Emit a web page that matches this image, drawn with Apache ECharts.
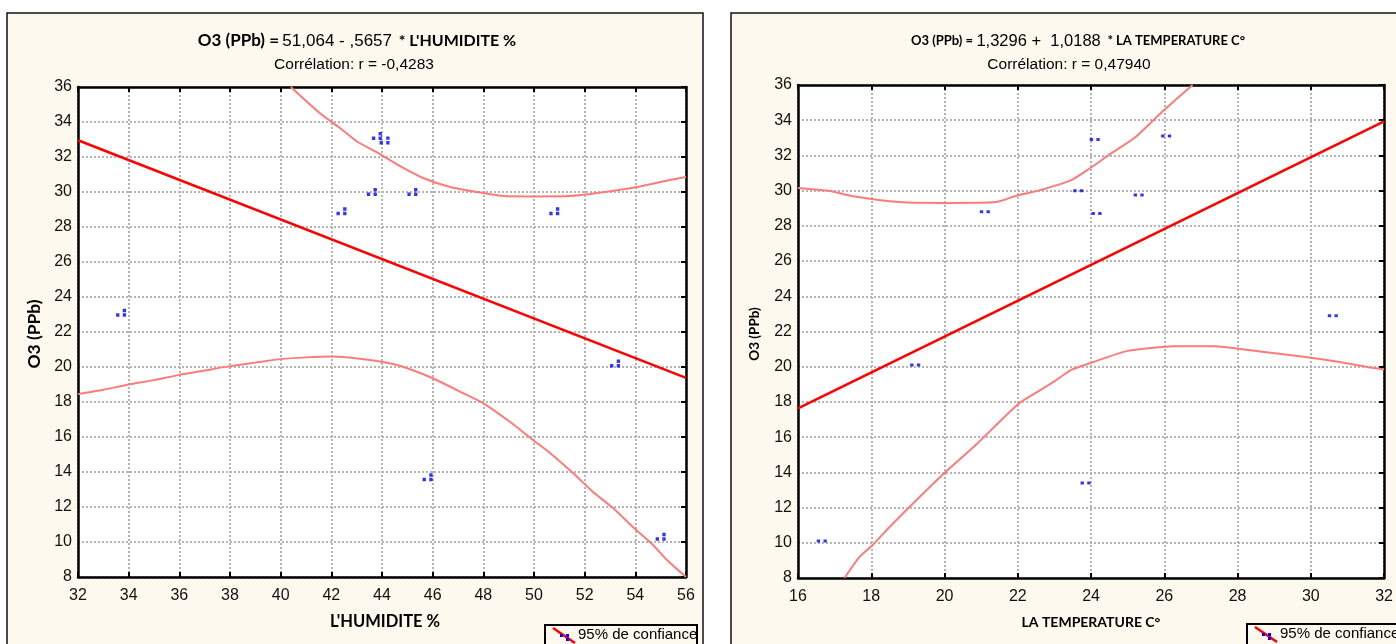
<!DOCTYPE html>
<html><head><meta charset="utf-8">
<script src="https://cdn.jsdelivr.net/npm/echarts@6/dist/echarts.min.js"></script>
<style>html,body{margin:0;padding:0;background:#fff}#c{width:1396px;height:644px}</style>
</head><body><div id="c"></div><script>
// ---------- data ----------
const humPoints = [[33.7,23.1],[42.4,28.9],[43.8,33.2],[44.1,32.95],[43.6,30.0],[45.2,30.0],[50.8,28.9],[53.2,20.2],[45.8,13.7],[55.0,10.3]];
const humFit = [[32,32.96],[56,19.38]];
const humUpper = [[40.4,36],[41.55,34.5],[42.34,33.66],[43.0,32.9],[43.92,32.17],[44.7,31.49],[45.62,30.8],[46.69,30.29],[47.99,29.94],[48.78,29.77],[50.0,29.75],[51.4,29.77],[52.5,29.94],[54.07,30.29],[55.37,30.69],[56,30.86]];
const humLower = [[32,18.45],[33,18.7],[34,19.0],[35,19.25],[36,19.55],[37,19.8],[38,20.05],[39,20.25],[40,20.45],[41,20.55],[42,20.6],[43.53,20.4],[44.6,20.11],[45.98,19.37],[47.2,18.51],[47.99,17.94],[49.06,16.86],[49.96,15.83],[50.63,15.09],[51.54,13.94],[52.33,12.86],[53.12,11.94],[53.9,10.86],[54.7,9.83],[55.25,8.97],[56,8.0]];

const tempPoints = [[16.65,10.1],[19.2,20.1],[21.1,28.8],[24.1,32.9],[23.65,30.0],[24.15,28.7],[25.3,29.75],[26.05,33.1],[30.6,22.9],[23.85,13.4]];
const tempFit = [[16,17.63],[32,33.93]];
const tempUpper = [[16,30.15],[16.87,29.98],[17.46,29.7],[18.77,29.35],[20.04,29.3],[21.4,29.35],[21.94,29.7],[22.56,30.0],[23.46,30.6],[23.92,31.2],[24.54,32.1],[25.19,33.0],[25.9,34.4],[26.77,36]];
const tempLower = [[17.27,8],[17.68,9.2],[18.03,9.86],[18.5,10.9],[19.23,12.42],[19.99,13.95],[20.85,15.55],[22.02,17.9],[22.56,18.6],[23.05,19.24],[23.46,19.82],[23.97,20.2],[25.0,20.9],[26.28,21.16],[27.36,21.16],[28.45,20.9],[29.7,20.6],[30.7,20.3],[31.5,20.0],[32,19.85]];

const humRange = {min:32, max:56, interval:2};
const tempRange = {min:16, max:32, interval:2};
const o3Range = {min:8, max:36, interval:2};

const titleLeft = ["O3 (PPb)", "51,064 - ,5657", "* L'HUMIDITE %"];
const corrLeft = "Corrélation: r = -0,4283";
const titleRight = ["O3 (PPb)", "1,3296 +  1,0188", "* LA TEMPERATURE C°"];
const corrRight = "Corrélation: r = 0,47940";
const xNameLeft = "L'HUMIDITE %";
const xNameRight = "LA TEMPERATURE C°";
const yName = "O3 (PPb)";
const legendText = "95% de confiance";

// ---------- styling ----------
const NUM = "'Liberation Sans',Arial,sans-serif";
const BOLD = "Lato,'Open Sans',sans-serif";
const CREAM = '#FDF9EE';
const BAND = '#FF7a7a';

function xAxes(r, grid){
  return [
    {type:'value', gridIndex:grid, position:'bottom', min:r.min, max:r.max, interval:r.interval,
     axisLine:{show:true,lineStyle:{color:'#000',width:2.5}},
     axisTick:{show:true,inside:true,length:5,lineStyle:{color:'#000',width:2}},
     axisLabel:{color:'#111',fontSize:16,fontFamily:NUM,margin:11},
     splitLine:{show:true,lineStyle:{color:'#b4b4b4',type:[2,2],width:2}}},
    {type:'value', gridIndex:grid, position:'top', min:r.min, max:r.max, interval:r.interval,
     axisLine:{show:true,lineStyle:{color:'#000',width:2.5}},
     axisTick:{show:true,inside:true,length:5,lineStyle:{color:'#000',width:2}},
     axisLabel:{show:false}, splitLine:{show:false}}
  ];
}
function yAxes(r, grid){
  return [
    {type:'value', gridIndex:grid, position:'left', min:r.min, max:r.max, interval:r.interval,
     axisLine:{show:true,lineStyle:{color:'#000',width:2.5}},
     axisTick:{show:false},
     axisLabel:{color:'#111',fontSize:16,fontFamily:NUM,margin:6},
     splitLine:{show:true,lineStyle:{color:'#b4b4b4',type:[2,2],width:2}}},
    {type:'value', gridIndex:grid, position:'right', min:r.min, max:r.max, interval:r.interval,
     axisLine:{show:true,lineStyle:{color:'#000',width:2.5}},
     axisTick:{show:true,inside:true,length:5,lineStyle:{color:'#000',width:2}},
     axisLabel:{show:false}, splitLine:{show:false}}
  ];
}
const SYM3 = 'path://M0,4h3v3h-3z M6,0h3v3h-3z M6,4h3v3h-3z';
const SYM2 = 'path://M0,0h3v3h-3z M6,0h3v3h-3z';
function seriesFor(idx, pts, fit, up, lo, sym, symSize){
  return [
    {type:'line', xAxisIndex:idx, yAxisIndex:idx, data:up, showSymbol:false, smooth:0.2, clip:true,
     lineStyle:{color:BAND,width:2}, z:3, silent:true},
    {type:'line', xAxisIndex:idx, yAxisIndex:idx, data:lo, showSymbol:false, smooth:0.2, clip:true,
     lineStyle:{color:BAND,width:2}, z:3, silent:true},
    {type:'line', xAxisIndex:idx, yAxisIndex:idx, data:fit, showSymbol:false, clip:true,
     lineStyle:{color:'#ff0000',width:2.6}, z:4, silent:true},
    {type:'scatter', xAxisIndex:idx, yAxisIndex:idx, data:pts, symbol:sym, symbolSize:symSize,
     itemStyle:{color:'#0000ff'}, z:5, silent:true}
  ];
}
function titleText(parts, x, y, b1, n, b2){
  return {type:'text', x:x, y:y, z:10, style:{
    text:'{a|'+parts[0]+' =} {n|'+parts[1]+'}  {b|'+parts[2]+'}',
    align:'center', verticalAlign:'middle',
    rich:{a:{fontFamily:BOLD,fontWeight:'bold',fontSize:b1,fill:'#000'},
          b:{fontFamily:BOLD,fontWeight:'bold',fontSize:b2,fill:'#000'},
          n:{fontFamily:NUM,fontSize:n,fill:'#000'}}}};
}
function legend(x, y, w){
  return [
    {type:'rect', z:10, shape:{x:x,y:y,width:w,height:30}, style:{fill:CREAM,stroke:'#000',lineWidth:2}},
    {type:'line', z:11, shape:{x1:x+8,y1:y+3,x2:x+30,y2:y+18}, style:{stroke:'#ff0000',lineWidth:2.5}},
    {type:'rect', z:12, shape:{x:x+15,y:y+9,width:3,height:3}, style:{fill:'#0000ff'}},
    {type:'rect', z:12, shape:{x:x+21,y:y+9,width:3,height:3}, style:{fill:'#0000ff'}},
    {type:'rect', z:12, shape:{x:x+21,y:y+13,width:3,height:3}, style:{fill:'#0000ff'}},
    {type:'text', z:12, x:x+33, y:y+10, style:{text:legendText, fontFamily:NUM, fontSize:15, fill:'#000', verticalAlign:'middle'}}
  ];
}

const chart = echarts.init(document.getElementById('c'), null, {renderer:'canvas'});
chart.setOption({
  backgroundColor:'#ffffff',
  animation:false,
  grid:[
    {left:78, top:87, width:608, height:490, show:true, backgroundColor:'#fff', borderWidth:0},
    {left:798, top:85, width:590, height:493, show:true, backgroundColor:'#fff', borderWidth:0}
  ],
  xAxis:[...xAxes(humRange,0), ...xAxes(tempRange,1)],
  yAxis:[...yAxes(o3Range,0), ...yAxes(o3Range,1)],
  series:[...seriesFor(0, humPoints, humFit, humUpper, humLower, SYM3, [10,8]),
          ...seriesFor(2, tempPoints, tempFit, tempUpper, tempLower, SYM2, [10,3])],
  graphic:{elements:[
    {type:'rect', z:-100, shape:{x:7,y:13,width:696,height:660}, style:{fill:CREAM,stroke:'#111',lineWidth:1.5}},
    {type:'rect', z:-100, shape:{x:731,y:13,width:680,height:660}, style:{fill:CREAM,stroke:'#111',lineWidth:1.5}},
    titleText(titleLeft, 357, 41, 17, 17, 16),
    {type:'text', x:354, y:65, z:10, style:{text:corrLeft, align:'center', verticalAlign:'middle', fontFamily:NUM, fontSize:15.5, fill:'#000'}},
    titleText(titleRight, 1078, 41, 13, 16.5, 13),
    {type:'text', x:1069, y:65, z:10, style:{text:corrRight, align:'center', verticalAlign:'middle', fontFamily:NUM, fontSize:15.5, fill:'#000'}},
    {type:'text', x:385, y:622, z:10, style:{text:xNameLeft, align:'center', verticalAlign:'middle', fontFamily:BOLD, fontWeight:'bold', fontSize:16.5, fill:'#000'}},
    {type:'text', x:1091, y:622, z:10, style:{text:xNameRight, align:'center', verticalAlign:'middle', fontFamily:BOLD, fontWeight:'bold', fontSize:14, fill:'#000'}},
    {type:'text', x:34, y:334, rotation:Math.PI/2, z:10, style:{text:yName, align:'center', verticalAlign:'middle', fontFamily:BOLD, fontWeight:'bold', fontSize:17.5, fill:'#000'}},
    {type:'text', x:755, y:334, rotation:Math.PI/2, z:10, style:{text:yName, align:'center', verticalAlign:'middle', fontFamily:BOLD, fontWeight:'bold', fontSize:13.5, fill:'#000'}},
    ...legend(545, 625, 152),
    ...legend(1247, 624, 160)
  ]}
});
</script></body></html>
